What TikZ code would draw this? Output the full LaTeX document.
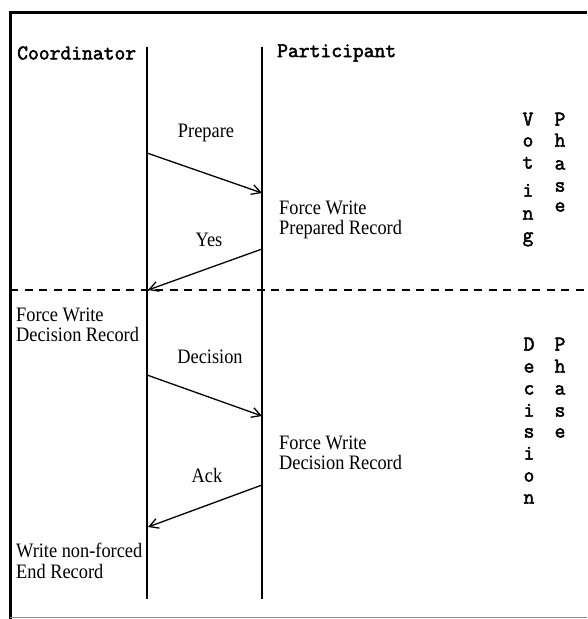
\documentclass[tikz,border=0pt]{standalone}
\usepackage{fontspec}
\setmainfont{Liberation Serif}[FakeStretch=0.895]
\newfontfamily\tyb[FakeBold=2.4]{Latin Modern Mono}
\usetikzlibrary{arrows.meta}
\tikzset{
  lbl/.style={font=\fontsize{20.5}{23}\selectfont, inner sep=0pt},
  rec/.style={font=\fontsize{20.5}{20.5}\selectfont, inner sep=0pt, align=left, anchor=west},
  hdr/.style={font=\fontsize{21}{21}\tyb, inner sep=0pt, anchor=west},
  vlet/.style={font=\fontsize{21}{21}\tyb, inner sep=0pt, text height=1.55ex, text depth=0pt},
  life/.style={line width=1.1pt},
  msg/.style={line width=1.3pt, -{Straight Barb[length=9pt,width=10pt,line width=1.3pt]}},
}
\begin{document}
\begin{tikzpicture}[x=1pt,y=-1pt]
\useasboundingbox (0,0) rectangle (587,619);
% frame
\draw[line width=3pt] (10,12) -- (587,12);
\draw[line width=3pt] (10.5,10.5) -- (10.5,619);
\draw[line width=0.8pt, black!45] (10,617.5) -- (587,617.5);
% headers
\node[hdr] (coord) at (17,53) {Coordinator};
\node[hdr] (part) at (277,53) {Participant};
% lifelines
\coordinate (c0) at (147,47);
\coordinate (c1) at (147,599);
\coordinate (p0) at (262,47);
\coordinate (p1) at (262,599);
\draw[life] (c0) -- (c1);
\draw[life] (p0) -- (p1);
% message points
\coordinate (cPrep) at (147,153);
\coordinate (pPrep) at (262,193);
\coordinate (pYes) at (262,249);
\coordinate (cYes) at (148,290);
\coordinate (cDec) at (147,375);
\coordinate (pDec) at (262,416);
\coordinate (pAck) at (262,485);
\coordinate (cAck) at (148,527);
% phase separator
\coordinate (sepL) at (10,290);
\coordinate (sepR) at (587,290);
\draw[line width=1.3pt, dash pattern=on 8pt off 6.5pt] (sepL) -- (sepR);
% messages
\draw[msg] (cPrep) -- (pPrep);
\draw[msg] (pYes) -- (cYes);
\draw[msg] (cDec) -- (pDec);
\draw[msg] (pAck) -- (cAck);
% message labels
\node[lbl] (lPrep) at (206,133) {Prepare};
\node[lbl] (lYes) at (209,240) {Yes};
\node[lbl] (lDec) at (210,357) {Decision};
\node[lbl] (lAck) at (207,475) {Ack};
% records
\node[rec] (r1) at (279,220) {Force Write\\Prepared Record};
\node[rec] (r2) at (16,325) {Force Write\\Decision Record};
\node[rec] (r3) at (279,453) {Force Write\\Decision Record};
\node[rec] (r4) at (16,561) {Write non-forced\\End Record};
% vertical phase labels
\foreach \ch/\yy [count=\i] in {V/122,o/143,t/165,i/193,n/216,g/238}
  \node[vlet] (vv\i) at (528,\yy) {\ch};
\foreach \ch/\yy [count=\i] in {P/122,h/143,a/166,s/188,e/208}
  \node[vlet] (vp\i) at (560,\yy) {\ch};
\foreach \ch/\yy [count=\i] in {D/347,e/369,c/391,i/413,s/434,i/456,o/478,n/500}
  \node[vlet] (dv\i) at (529,\yy) {\ch};
\foreach \ch/\yy [count=\i] in {P/347,h/369,a/391,s/413,e/434}
  \node[vlet] (dp\i) at (560,\yy) {\ch};
\end{tikzpicture}
\end{document}
